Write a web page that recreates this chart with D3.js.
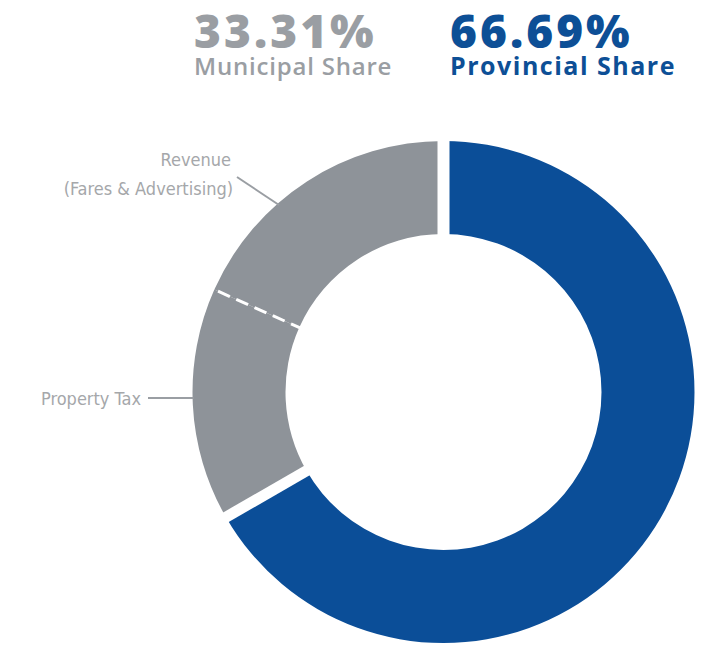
<!DOCTYPE html>
<html>
<head>
<meta charset="utf-8">
<script src="https://cdn.jsdelivr.net/npm/d3@7"></script>
<style>
  body { margin: 0; background: #fff; }
  svg { display: block; }
</style>
</head>
<body>
<svg width="722" height="647"></svg>
<script>
const SEGMENTS = ["Provincial", "Property Tax", "Revenue"];
const VALUES = [66.69, 15.0, 18.31];
const SHARE_LABELS = ["33.31%", "66.69%"];
const SHARE_NAMES = ["Municipal Share", "Provincial Share"];

const colors = d3.scaleOrdinal()
  .domain(SEGMENTS)
  .range(["#0b4e98", "#8e9399", "#8e9399"]);

const svg = d3.select("svg");
const cx = 443.5, cy = 392;
const outerR = 251, innerR = 158;

const pie = d3.pie().sort(null).value((d, i) => VALUES[i]);
const arcs = pie(SEGMENTS);
const arc = d3.arc().innerRadius(innerR).outerRadius(outerR);

const g = svg.append("g").attr("transform", `translate(${cx},${cy})`);

g.selectAll(".slice")
  .data(arcs)
  .enter()
  .append("path")
  .classed("slice", true)
  .attr("d", arc)
  .attr("fill", (d) => colors(d.data));

// white gaps around the provincial slice, dashed divider between the grey ones
const radial = (a, r) => [Math.sin(a) * r, -Math.cos(a) * r];
const cuts = [
  { angle: arcs[0].startAngle, dash: null, width: 12 },
  { angle: arcs[0].endAngle, dash: null, width: 11 },
  { angle: arcs[2].startAngle, dash: "13 7", width: 3 },
];
g.selectAll(".cut")
  .data(cuts)
  .enter()
  .append("line")
  .classed("cut", true)
  .attr("x1", (d) => radial(d.angle, innerR - 4)[0])
  .attr("y1", (d) => radial(d.angle, innerR - 4)[1])
  .attr("x2", (d) => radial(d.angle, outerR + 4)[0])
  .attr("y2", (d) => radial(d.angle, outerR + 4)[1])
  .attr("stroke", "#fff")
  .attr("stroke-width", (d) => d.width)
  .attr("stroke-dasharray", (d) => d.dash);

// headline shares
const heads = [
  { x: 194, color: "#9a9ea3", weight: 600, size: 24, spacing: 0.8 },
  { x: 450, color: "#0d4f96", weight: 700, size: 25, spacing: 1.5 },
];
svg.selectAll(".pct")
  .data(SHARE_LABELS)
  .enter()
  .append("text")
  .attr("x", (d, i) => heads[i].x)
  .attr("y", 48)
  .attr("font-family", "Open Sans")
  .attr("font-weight", 800)
  .attr("font-size", 46)
  .attr("letter-spacing", 3)
  .attr("fill", (d, i) => heads[i].color)
  .text((d) => d);

svg.selectAll(".share")
  .data(SHARE_NAMES)
  .enter()
  .append("text")
  .attr("x", (d, i) => heads[i].x)
  .attr("y", 75)
  .attr("font-family", "Open Sans")
  .attr("font-weight", (d, i) => heads[i].weight)
  .attr("font-size", (d, i) => heads[i].size)
  .attr("letter-spacing", (d, i) => heads[i].spacing)
  .attr("fill", (d, i) => heads[i].color)
  .text((d) => d);

// slice labels with leader lines
const labelStyle = (sel) => sel
  .attr("font-family", "DejaVu Sans Condensed, DejaVu Sans")
  .attr("font-stretch", "condensed")
  .attr("font-size", 18)
  .attr("fill", "#a5a7aa")
  .attr("text-anchor", "end");

svg.append("line")
  .attr("x1", 237).attr("y1", 177)
  .attr("x2", 279).attr("y2", 205)
  .attr("stroke", "#9a9ea3").attr("stroke-width", 2);
labelStyle(svg.append("text")).attr("x", 231).attr("y", 166).text("Revenue");
labelStyle(svg.append("text")).attr("x", 233).attr("y", 195).text("(Fares & Advertising)");

svg.append("line")
  .attr("x1", 148).attr("y1", 398)
  .attr("x2", cx - outerR + 1).attr("y2", 398)
  .attr("stroke", "#9a9ea3").attr("stroke-width", 2);
labelStyle(svg.append("text")).attr("x", 141).attr("y", 405).text("Property Tax");
</script>
</body>
</html>
